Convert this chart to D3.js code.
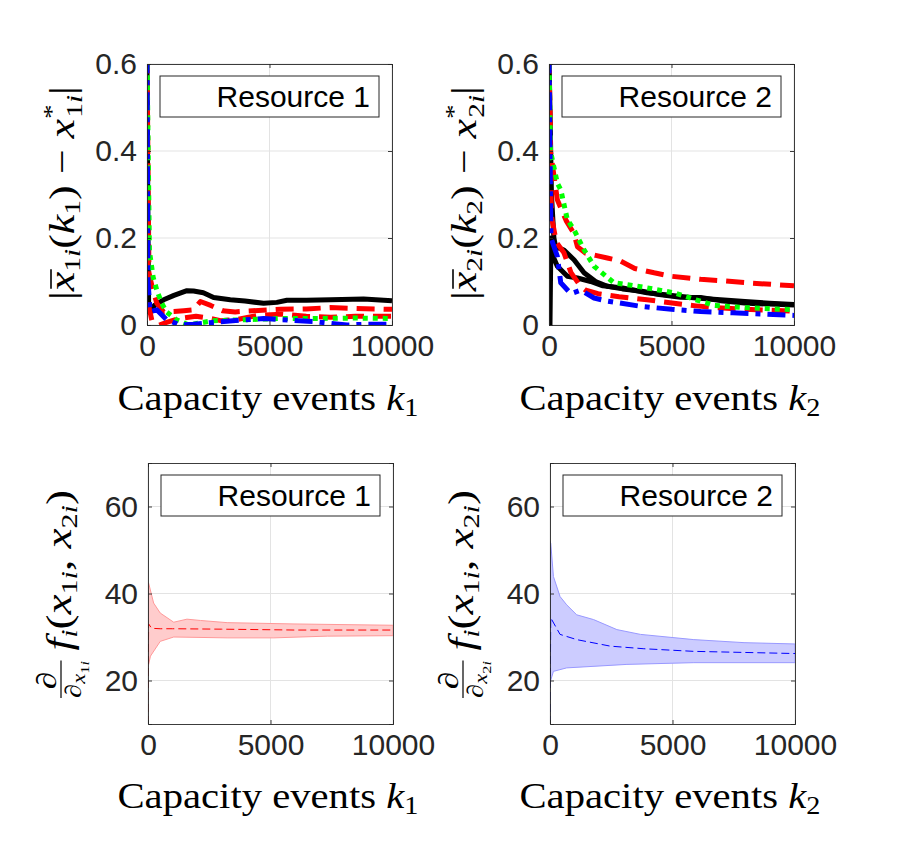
<!DOCTYPE html>
<html>
<head>
<meta charset="utf-8">
<script src="https://cdn.jsdelivr.net/npm/d3@7"></script>
<style>
  body { margin: 0; background: #fff; }
</style>
</head>
<body>
<svg id="chart" width="913" height="842"></svg>
<script>
// tick values
var kTicks = [0, 5000, 10000],
    errTicks = [0, 0.2, 0.4, 0.6],
    gradTicks = [20, 40, 60];

var resources = ["Resource 1", "Resource 2"];

// top row: |mean x - x*| per user, [k, value]
var r1Black = [[0,0.62],[40,0.2],[70,0.03],[150,0.03],[300,0.045],[680,0.058],[1100,0.068],[1630,0.079],[1900,0.078],[2300,0.074],[2720,0.063],[3400,0.058],[4000,0.055],[4760,0.05],[5300,0.052],[5710,0.057],[6500,0.057],[7500,0.058],[8840,0.06],[10000,0.056]];
var r1RedA = [[0,0.62],[80,0.12],[200,0.09],[400,0.05],[680,0.03],[1100,0.031],[1500,0.033],[1900,0.035],[2180,0.054],[2600,0.045],[3080,0.033],[3600,0.03],[4080,0.032],[5440,0.036],[6500,0.037],[7480,0.04],[8500,0.038],[10000,0.036]];
var r1RedB = [[0,0.3],[50,0.05],[200,0.01],[500,0],[800,0.006],[1300,0.015],[2000,0.02],[2500,0.016],[3000,0.01],[3700,0.013],[4500,0.022],[5500,0.025],[6500,0.02],[7500,0.018],[8500,0.02],[10000,0.02]];
var r1Green = [[0,0.62],[100,0.17],[250,0.11],[400,0.08],[600,0.05],[800,0.03],[1200,0.012],[1700,0],[2200,0.005],[2700,0.01],[4000,0.012],[5400,0.015],[7000,0.015],[8500,0.016],[10000,0.015]];
var r1Blue = [[0,0.62],[40,0.1],[130,0.03],[400,0.035],[800,0.012],[1360,0],[1900,0.002],[2700,0.006],[3500,0.01],[4760,0.015],[5500,0.012],[6800,0.008],[8160,0],[9000,0.002],[10000,0.002]];

var r2BlackA = [[0,0.62],[100,0.3],[200,0.2],[270,0.18],[610,0.172],[1020,0.15],[1430,0.12],[1900,0.1],[2380,0.089],[3000,0.083],[3740,0.078],[4500,0.07],[5370,0.064],[6190,0.063],[7000,0.056],[8100,0.05],[9000,0.048],[10000,0.046]];
var r2BlackB = [[0,0],[40,0],[80,0.2],[150,0.16],[340,0.135],[750,0.112],[1160,0.108],[1700,0.1],[2200,0.09],[3000,0.085],[4000,0.074],[5000,0.068],[6000,0.062],[7000,0.058],[8000,0.054],[9000,0.05],[10000,0.047]];
var r2RedA = [[0,0.62],[60,0.4],[340,0.288],[700,0.24],[1020,0.21],[1160,0.18],[1500,0.165],[1900,0.16],[2380,0.154],[2920,0.147],[3500,0.13],[4290,0.12],[5000,0.112],[6190,0.105],[7000,0.102],[8100,0.097],[10000,0.09]];
var r2RedB = [[0,0.62],[100,0.25],[300,0.19],[610,0.166],[900,0.12],[1290,0.089],[1500,0.08],[2000,0.072],[2860,0.065],[4000,0.058],[5100,0.05],[6000,0.044],[6730,0.04],[8000,0.036],[10000,0.032]];
var r2Green = [[0,0.62],[60,0.4],[340,0.326],[480,0.311],[750,0.242],[1020,0.219],[1430,0.173],[1840,0.135],[2650,0.097],[3740,0.088],[5100,0.074],[6000,0.058],[6730,0.045],[8000,0.04],[10000,0.035]];
var r2Blue = [[0,0.62],[80,0.2],[340,0.158],[480,0.097],[890,0.072],[1290,0.08],[1840,0.062],[2380,0.055],[3740,0.043],[5000,0.036],[6190,0.031],[7500,0.028],[10000,0.022]];

// bottom row: mean gradient and its spread, [k, value]
var g1Mean = [[0,10],[25,33],[150,32],[500,31.9],[1000,31.9],[3000,31.8],[6000,31.6],[10000,31.6]];
var g1Upper = [[0,42.5],[25,42.4],[230,37.8],[500,35.5],[1050,33.4],[1590,34.1],[2140,33.8],[3230,33.3],[5960,33],[10000,32.7]];
var g1Lower = [[0,23],[100,25.6],[500,29],[1050,30],[3230,29.8],[5140,29.8],[7320,30.2],[10000,30.3]];
var g2Mean = [[0,10],[30,34.4],[410,30.6],[1090,29.4],[2460,27.9],[3830,27.3],[5870,26.7],[10000,26.2]];
var g2Upper = [[0,52],[30,51.6],[140,43.9],[410,39.3],[680,37.4],[1090,35.1],[1780,34],[2730,31.7],[3690,30.6],[5870,29.4],[7920,28.7],[10000,28.4]];
var g2Lower = [[0,19.5],[140,22.1],[680,22.9],[3140,23.7],[5870,24.1],[10000,24.1]];

var styles = {
    black: {color: "#000000", dash: null},
    red:   {color: "#ff0000", dash: "18 9"},
    green: {color: "#00ff00", dash: "5 5"},
    blue:  {color: "#0000ff", dash: "18 7 5 7"}
};

var svg = d3.select("#chart"),
    pw = 245,
    ph = 261,
    axisColor = "#262626",
    gridColor = "#e3e3e3",
    tickFont = "Liberation Sans, Arial, sans-serif",
    mathFont = "Liberation Serif, Times New Roman, serif";

function frame(left, top, yDomain, yTicks, yFmt, id) {
    var x = d3.scaleLinear().domain([0, 10000]).range([0, pw]),
        y = d3.scaleLinear().domain(yDomain).range([ph, 0]);

    var g = svg.append("g").attr("transform", "translate(" + left + "," + top + ")");

    g.append("clipPath").attr("id", id)
      .append("rect").attr("width", pw).attr("height", ph);

    // grid
    g.selectAll(".vgrid").data(kTicks).enter().append("line")
        .attr("x1", function(d){ return x(d); }).attr("x2", function(d){ return x(d); })
        .attr("y1", 0).attr("y2", ph)
        .style("stroke", gridColor).style("stroke-width", 1);
    g.selectAll(".hgrid").data(yTicks).enter().append("line")
        .attr("y1", function(d){ return y(d); }).attr("y2", function(d){ return y(d); })
        .attr("x1", 0).attr("x2", pw)
        .style("stroke", gridColor).style("stroke-width", 1);

    return {g: g, x: x, y: y, yTicks: yTicks, yFmt: yFmt, id: id};
}

function finish(p, legendText) {
    var g = p.g, x = p.x, y = p.y;

    // box with inward ticks
    var xAxis = d3.axisBottom(x).tickValues(kTicks).tickSize(-4).tickFormat(d3.format("d")),
        xTop = d3.axisTop(x).tickValues(kTicks).tickSize(-4).tickFormat(""),
        yAxis = d3.axisLeft(y).tickValues(p.yTicks).tickSize(-4).tickFormat(p.yFmt),
        yRight = d3.axisRight(y).tickValues(p.yTicks).tickSize(-4).tickFormat("");

    var ax = [
        g.append("g").attr("transform", "translate(0," + ph + ")").call(xAxis),
        g.append("g").call(xTop),
        g.append("g").call(yAxis),
        g.append("g").attr("transform", "translate(" + pw + ",0)").call(yRight)
    ];
    ax.forEach(function(a){
        a.selectAll("path").style("stroke", axisColor).style("stroke-width", 0.9);
        a.selectAll("line").style("stroke", axisColor).style("stroke-width", 0.9);
        a.selectAll("text").style("font", "30px " + tickFont).style("fill", axisColor);
    });
    ax[0].selectAll("text").attr("y", 10);
    ax[2].selectAll("text").attr("x", -10);

    // legend box
    var lg = g.append("g").attr("transform", "translate(13,12)");
    lg.append("rect").attr("width", 219).attr("height", 41)
        .style("fill", "#fff").style("stroke", axisColor).style("stroke-width", 1);
    lg.append("text").attr("x", 210).attr("y", 31)
        .attr("text-anchor", "end")
        .style("font", "30px " + tickFont).style("fill", "#000")
        .text(legendText);
}

// stretch a label along its own direction so its length matches the reference, centred on (cx, cy)
function fit(inner, target, cx, cy, rot) {
    var bb = inner.node().getBBox(),
        s = target / bb.width;
    inner.attr("transform", "translate(" + cx + "," + cy + ") rotate(" + rot + ") scale(" + s + ",1) translate(" + (-(bb.x + bb.width / 2)) + ",0)");
}

function sub(t, txt, italic, size, dy) {
    var s = t.append("tspan").style("font-size", size + "px").text(txt);
    if (italic) s.style("font-style", "italic");
    if (dy) s.attr("dy", dy);
    return s;
}

function xLabel(cx, baseline, r) {
    var g = svg.append("g");
    var t = g.append("text")
        .style("font-family", mathFont).style("font-size", "36px").style("fill", "#000");
    t.append("tspan").text("Capacity events ");
    sub(t, "k", true, 36);
    sub(t, r, false, 25, 6);
    fit(g, 301, cx, baseline, 0);
}

function errLabel(cx, cy, r) {
    var g = svg.append("g").style("font-family", mathFont).style("fill", "#000");
    var t = g.append("text").style("font-size", "36px");
    t.append("tspan").text("|");
    sub(t, "x", true, 36);
    sub(t, r, false, 24, 6);
    sub(t, "i", true, 24);
    sub(t, "(", false, 36, -6);
    sub(t, "k", true, 36);
    sub(t, r, false, 24, 6);
    sub(t, ") \u2212 ", false, 36, -6);
    sub(t, "x", true, 36);
    sub(t, "*", false, 24, -15);
    sub(t, r, false, 24, 23).attr("dx", -11);
    sub(t, "i", true, 24);
    sub(t, "|", false, 36, -8);
    // bar over the first x
    var a = t.node().getStartPositionOfChar(1),
        b = t.node().getEndPositionOfChar(1);
    g.append("line").attr("x1", a.x + 2).attr("x2", b.x + 2)
        .attr("y1", -23).attr("y2", -23)
        .style("stroke", "#000").style("stroke-width", 1.6);
    fit(g, 214, cx, cy, -90);
}

function gradLabel(cx, cy, r) {
    var g = svg.append("g").style("font-family", mathFont).style("fill", "#000");
    // fraction d / d x_ri
    g.append("text").attr("x", 14).attr("y", -15).attr("text-anchor", "middle")
        .style("font-size", "28px").text("\u2202");
    g.append("line").attr("x1", 0).attr("x2", 30).attr("y1", -10).attr("y2", -10)
        .style("stroke", "#000").style("stroke-width", 1.2);
    var d = g.append("text").attr("x", 0).attr("y", 10).style("font-size", "23px");
    d.append("tspan").text("\u2202");
    sub(d, "x", true, 18, 4);
    sub(d, r, false, 13, 4);
    sub(d, "i", true, 13);

    var t = g.append("text").attr("x", 38).attr("y", 0).style("font-size", "36px");
    sub(t, "f", true, 36);
    sub(t, "i", true, 24, 6);
    sub(t, "(", false, 36, -6);
    sub(t, "x", true, 36);
    sub(t, "1", false, 24, 6);
    sub(t, "i", true, 24);
    sub(t, ", ", false, 36, -6);
    sub(t, "x", true, 36);
    sub(t, "2", false, 24, 6);
    sub(t, "i", true, 24);
    sub(t, ")", false, 36, -6);
    fit(g, 208, cx, cy, -90);
}

function errPanel(left, top, series, legendText, id) {
    var p = frame(left, top, [0, 0.6], errTicks, d3.format(".1~f"), id);
    var line = d3.line()
        .x(function(d){ return p.x(d[0]); })
        .y(function(d){ return p.y(d[1]); });
    var lines = p.g.append("g").attr("clip-path", "url(#" + id + ")");
    series.forEach(function(s){
        var st = styles[s.style];
        lines.append("path")
            .datum(s.data)
            .attr("d", line)
            .style("fill", "none")
            .style("stroke", st.color)
            .style("stroke-width", 5)
            .style("stroke-linejoin", "round")
            .style("stroke-dasharray", st.dash);
    });
    finish(p, legendText);
}

function gradPanel(left, top, mean, upper, lower, color, fill, edge, legendText, id) {
    var p = frame(left, top, [10, 70], gradTicks, d3.format("d"), id);
    var line = d3.line()
        .x(function(d){ return p.x(d[0]); })
        .y(function(d){ return p.y(d[1]); });
    var area = upper.concat(lower.slice().reverse());
    var lay = p.g.append("g").attr("clip-path", "url(#" + id + ")");
    lay.append("path")
        .datum(area)
        .attr("d", line.curve(d3.curveLinearClosed))
        .style("fill", fill)
        .style("stroke", edge)
        .style("stroke-width", 1);
    line.curve(d3.curveLinear);
    lay.append("path")
        .datum(mean)
        .attr("d", line)
        .style("fill", "none")
        .style("stroke", color)
        .style("stroke-width", 1)
        .style("stroke-dasharray", "8 4");
    finish(p, legendText);
}

errPanel(147, 64, [
    {data: r1Black, style: "black"},
    {data: r1RedA, style: "red"},
    {data: r1RedB, style: "red"},
    {data: r1Green, style: "green"},
    {data: r1Blue, style: "blue"}
], resources[0], "c1");

errPanel(549, 64, [
    {data: r2BlackA, style: "black"},
    {data: r2BlackB, style: "black"},
    {data: r2RedA, style: "red"},
    {data: r2RedB, style: "red"},
    {data: r2Green, style: "green"},
    {data: r2Blue, style: "blue"}
], resources[1], "c2");

gradPanel(148, 463, g1Mean, g1Upper, g1Lower, "#ff0000", "#ffcccc", "#ff9999", resources[0], "c3");
gradPanel(550, 463, g2Mean, g2Upper, g2Lower, "#0000ff", "#ccccff", "#9999ff", resources[1], "c4");

xLabel(268, 410, "1");
xLabel(670, 410, "2");
xLabel(268, 808, "1");
xLabel(670, 808, "2");

errLabel(74, 193, "1");
errLabel(476, 193, "2");
gradLabel(71, 594, "1");
gradLabel(473, 594, "2");
</script>
</body>
</html>
